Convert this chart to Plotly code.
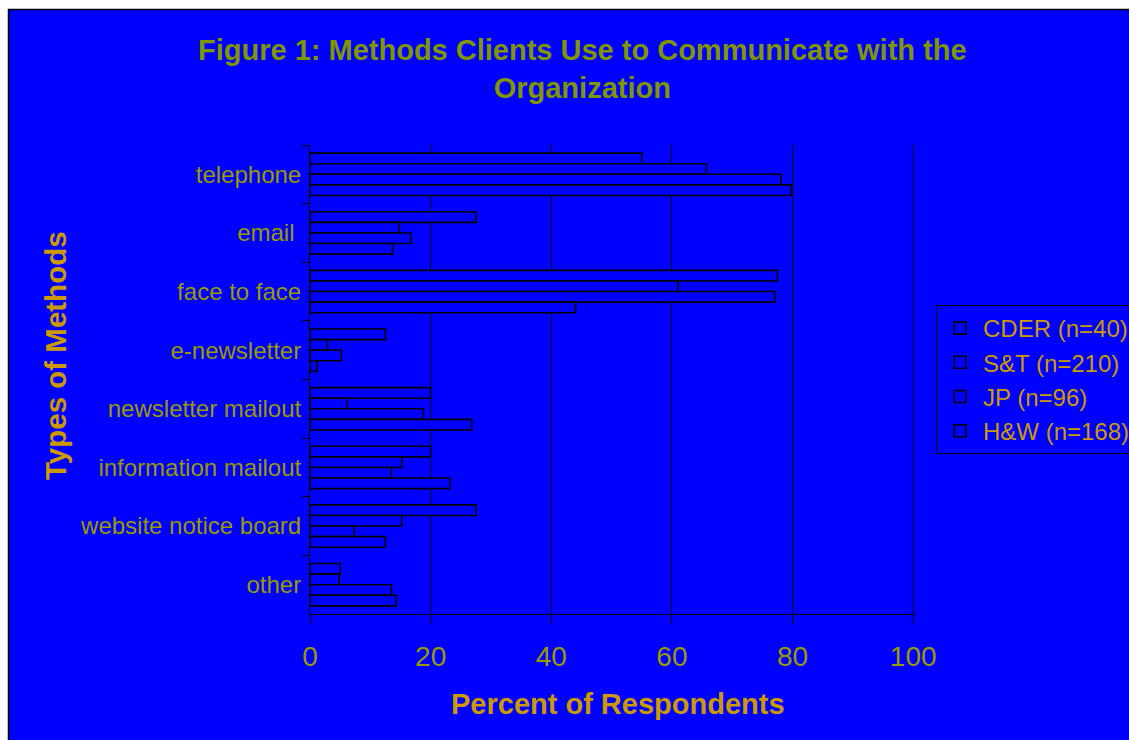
import plotly.graph_objects as go

categories = ["telephone", "email ", "face to face", "e-newsletter", "newsletter mailout",
              "information mailout", "website notice board", "other"]
series_names = ["CDER (n=40)", "S&T (n=210)", "JP (n=96)", "H&W (n=168)"]
cder = [55.0, 27.5, 77.5, 12.5, 20.0, 20.0, 27.5, 5.0]
st = [65.7, 14.8, 61.0, 2.9, 6.2, 15.2, 15.2, 4.8]
jp = [78.1, 16.7, 77.1, 5.2, 18.8, 13.5, 7.3, 13.5]
hw = [79.8, 13.7, 44.0, 1.2, 26.8, 23.2, 12.5, 14.3]
series_values = [cder, st, jp, hw]
x_ticks = [0, 20, 40, 60, 80, 100]
x_range = [0, 100.3]

FONT = "Liberation Sans, Arial, sans-serif"
BLUE = "#0000FF"

# paper geometry helpers (plot area: x 310..915 px, y 145..614 px)
L, R, T, B = 310, 915, 145, 614
W, H = R - L, B - T
def xp(px):
    return (px - L) / W
def yp(py):
    return (B - py) / H

fig = go.Figure()
for name, vals in zip(series_names, series_values):
    fig.add_trace(go.Bar(
        x=vals, y=categories, orientation="h", name=name,
        marker=dict(color=BLUE, line=dict(color="black", width=1.6)),
    ))

fig.add_shape(type="rect", xref="paper", yref="paper",
              x0=xp(8.5), x1=xp(1140), y0=yp(760), y1=yp(9.5),
              fillcolor=BLUE, line=dict(color="black", width=1.5), layer="below")

fig.add_annotation(text="<b>Figure 1: Methods Clients Use to Communicate with the<br>Organization</b>",
                   xref="paper", yref="paper", x=xp(582), y=yp(68.5),
                   showarrow=False, xanchor="center", yanchor="middle",
                   font=dict(family=FONT, size=29, color="#809600"))
fig.add_annotation(text="<b>Percent of Respondents</b>",
                   xref="paper", yref="paper", x=xp(617.5), y=yp(704),
                   showarrow=False, xanchor="center", yanchor="middle",
                   font=dict(family=FONT, size=29, color="#CC9900"))
fig.add_annotation(text="<b>Types of Methods</b>", textangle=-90,
                   xref="paper", yref="paper", x=xp(55), y=yp(356),
                   showarrow=False, xanchor="center", yanchor="middle",
                   font=dict(family=FONT, size=29.5, color="#CC9900"))

fig.update_layout(
    width=1129, height=740, autosize=False,
    margin=dict(l=L, r=1129 - R, t=T, b=740 - B, pad=0, autoexpand=False),
    paper_bgcolor="white", plot_bgcolor=BLUE,
    barmode="group", bargap=0.278, bargroupgap=0,
    font=dict(family=FONT),
    showlegend=True,
    legend=dict(x=xp(936), y=yp(305), xanchor="left", yanchor="top",
                bgcolor=BLUE, bordercolor="black", borderwidth=1,
                font=dict(family=FONT, size=24, color="#CC9900"),
                traceorder="normal", itemwidth=36),
    xaxis=dict(range=x_range, tickvals=x_ticks, ticktext=[str(v) for v in x_ticks],
               showgrid=True, gridcolor="black", gridwidth=1, zeroline=False,
               showline=True, linecolor="black", linewidth=1,
               ticks="outside", ticklen=9, tickcolor="black", ticklabelstandoff=8,
               tickfont=dict(family=FONT, size=28, color="#999900")),
    yaxis=dict(type="category", categoryorder="array", categoryarray=categories,
               autorange="reversed", showgrid=False, zeroline=False,
               showline=True, linecolor="black", linewidth=1,
               ticks="outside", tickson="boundaries", ticklen=7, tickcolor="black",
               ticklabelstandoff=3,
               tickfont=dict(family=FONT, size=24, color="#999900")),
)

fig.write_html("out.html")
